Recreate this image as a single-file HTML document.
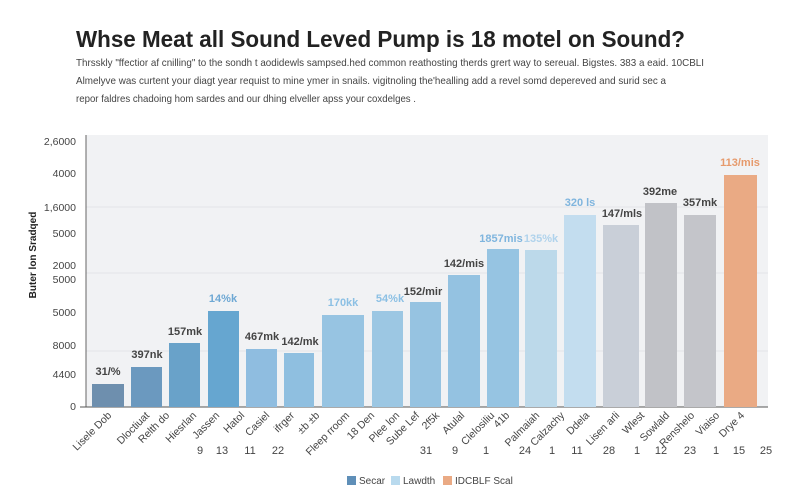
<!DOCTYPE html>
<html><head><meta charset="utf-8"><style>
html,body{margin:0;padding:0;background:#fff;}
svg{display:block;font-family:"Liberation Sans",sans-serif;}
</style></head><body>
<svg width="800" height="500" viewBox="0 0 800 500">
<rect width="800" height="500" fill="#fff"/>
<text x="76" y="47" font-size="23" font-weight="bold" fill="#222" textLength="609" lengthAdjust="spacingAndGlyphs">Whse Meat all Sound Leved Pump is 18 motel on Sound?</text>
<g font-size="10.5" fill="#444">
<text x="76" y="66" textLength="628" lengthAdjust="spacingAndGlyphs">Thrsskly "ffectior af cnilling" to the sondh t aodidewls sampsed.hed common reathosting therds grert way to sereual. Bigstes. 383 a eaid. 10CBLI</text>
<text x="76" y="84" textLength="590" lengthAdjust="spacingAndGlyphs">Almelyve was curtent your diagt year requist to mine ymer in snails. vigitnoling the'healling add a revel somd depereved and surid sec a</text>
<text x="76" y="102" textLength="340" lengthAdjust="spacingAndGlyphs">repor faldres chadoing hom sardes and our dhing elveller apss your coxdelges .</text>
</g>
<rect x="86" y="135" width="682" height="272" fill="#f1f2f4"/>
<g stroke="#e2e4e8" stroke-width="1">
<line x1="86" y1="207" x2="768" y2="207"/>
<line x1="86" y1="273" x2="768" y2="273"/>
<line x1="86" y1="351" x2="768" y2="351"/>
</g>
<line x1="86" y1="135" x2="86" y2="407" stroke="#666"/>
<line x1="80" y1="407" x2="768" y2="407" stroke="#555"/>
<g font-size="10.5" fill="#444" text-anchor="end">
<text x="76" y="145">2,6000</text><text x="76" y="177">4000</text><text x="76" y="211">1,6000</text>
<text x="76" y="237">5000</text><text x="76" y="269">2000</text><text x="76" y="283">5000</text>
<text x="76" y="316">5000</text><text x="76" y="349">8000</text><text x="76" y="378">4400</text><text x="76" y="410">0</text>
</g>
<text transform="translate(36,255) rotate(-90)" font-size="10" font-weight="bold" fill="#222" text-anchor="middle">Buter lon Sradqed</text>
<g>
<rect x="92" y="384" width="32" height="23" fill="#6e8fae"/>
<rect x="131" y="367" width="31" height="40" fill="#6b99bf"/>
<rect x="169" y="343" width="31" height="64" fill="#69a2c9"/>
<rect x="208" y="311" width="31" height="96" fill="#66a6d0"/>
<rect x="246" y="349" width="31" height="58" fill="#8fbde0"/>
<rect x="284" y="353" width="30" height="54" fill="#8fbfe0"/>
<rect x="322" y="315" width="42" height="92" fill="#97c4e2"/>
<rect x="372" y="311" width="31" height="96" fill="#9cc7e3"/>
<rect x="410" y="302" width="31" height="105" fill="#96c3e1"/>
<rect x="448" y="275" width="32" height="132" fill="#94c2e1"/>
<rect x="487" y="249" width="32" height="158" fill="#96c4e2"/>
<rect x="525" y="250" width="32" height="157" fill="#bcd9ea"/>
<rect x="564" y="215" width="32" height="192" fill="#c3ddef"/>
<rect x="603" y="225" width="36" height="182" fill="#c9cfd8"/>
<rect x="645" y="203" width="32" height="204" fill="#c1c2c7"/>
<rect x="684" y="215" width="32" height="192" fill="#c4c5ca"/>
<rect x="724" y="175" width="33" height="232" fill="#eaaa84"/>
</g>
<g font-size="11" font-weight="bold" text-anchor="middle" fill="#444">
<text x="108" y="375">31/%</text>
<text x="147" y="358">397nk</text>
<text x="185" y="335">157mk</text>
<text x="223" y="302" fill="#6ea8d4">14%k</text>
<text x="262" y="340">467mk</text>
<text x="300" y="345">142/mk</text>
<text x="343" y="306" fill="#8cc0e4">170kk</text>
<text x="390" y="302" fill="#8cc0e4">54%k</text>
<text x="423" y="295">152/mir</text>
<text x="464" y="267">142/mis</text>
<text x="501" y="242" fill="#7fb5de">1857mis</text>
<text x="541" y="242" fill="#b0d3ec">135%k</text>
<text x="580" y="206" fill="#7fb5de">320 ls</text>
<text x="622" y="217">147/mls</text>
<text x="660" y="195">392me</text>
<text x="700" y="206">357mk</text>
<text x="740" y="166" fill="#e69a6c">113/mis</text>
</g>
<g font-size="10.5" fill="#444" text-anchor="end">
<text transform="translate(112,416) rotate(-45)">Lisele Dob</text>
<text transform="translate(150,416) rotate(-45)">Dloctiuat</text>
<text transform="translate(170,416) rotate(-45)">Relth do</text>
<text transform="translate(197,416) rotate(-45)">Hiesrlan</text>
<text transform="translate(220,416) rotate(-45)">Jassen</text>
<text transform="translate(245,416) rotate(-45)">Hatol</text>
<text transform="translate(270,416) rotate(-45)">Casiel</text>
<text transform="translate(295,416) rotate(-45)">ifrger</text>
<text transform="translate(320,416) rotate(-45)">±b ±b</text>
<text transform="translate(350,416) rotate(-45)">Fleep rroom</text>
<text transform="translate(375,416) rotate(-45)">18 Den</text>
<text transform="translate(400,416) rotate(-45)">Plee lon</text>
<text transform="translate(420,416) rotate(-45)">Sube Lef</text>
<text transform="translate(440,416) rotate(-45)">2f5k</text>
<text transform="translate(465,416) rotate(-45)">Atulal</text>
<text transform="translate(495,416) rotate(-45)">Clelosiliu</text>
<text transform="translate(510,416) rotate(-45)">41b</text>
<text transform="translate(540,416) rotate(-45)">Palmaiah</text>
<text transform="translate(565,416) rotate(-45)">Calzachy</text>
<text transform="translate(590,416) rotate(-45)">Ddela</text>
<text transform="translate(620,416) rotate(-45)">Lisen arli</text>
<text transform="translate(645,416) rotate(-45)">Wlest</text>
<text transform="translate(670,416) rotate(-45)">Sowlald</text>
<text transform="translate(695,416) rotate(-45)">Renshelo</text>
<text transform="translate(720,416) rotate(-45)">Viaiso</text>
<text transform="translate(745,416) rotate(-45)">Drye 4</text>
</g>
<g font-size="11" fill="#444" text-anchor="middle">
<text x="200" y="454">9</text><text x="222" y="454">13</text><text x="250" y="454">11</text><text x="278" y="454">22</text>
<text x="426" y="454">31</text><text x="455" y="454">9</text><text x="486" y="454">1</text><text x="525" y="454">24</text>
<text x="552" y="454">1</text><text x="577" y="454">11</text><text x="609" y="454">28</text><text x="637" y="454">1</text>
<text x="661" y="454">12</text><text x="690" y="454">23</text><text x="716" y="454">1</text><text x="739" y="454">15</text><text x="766" y="454">25</text>
</g>
<g font-size="10" fill="#444">
<rect x="347" y="476" width="9" height="9" fill="#5f8fb8"/><text x="359" y="484">Secar</text>
<rect x="391" y="476" width="9" height="9" fill="#b9daee"/><text x="403" y="484">Lawdth</text>
<rect x="443" y="476" width="9" height="9" fill="#eaaa84"/><text x="455" y="484">IDCBLF Scal</text>
</g>
</svg>
</body></html>
